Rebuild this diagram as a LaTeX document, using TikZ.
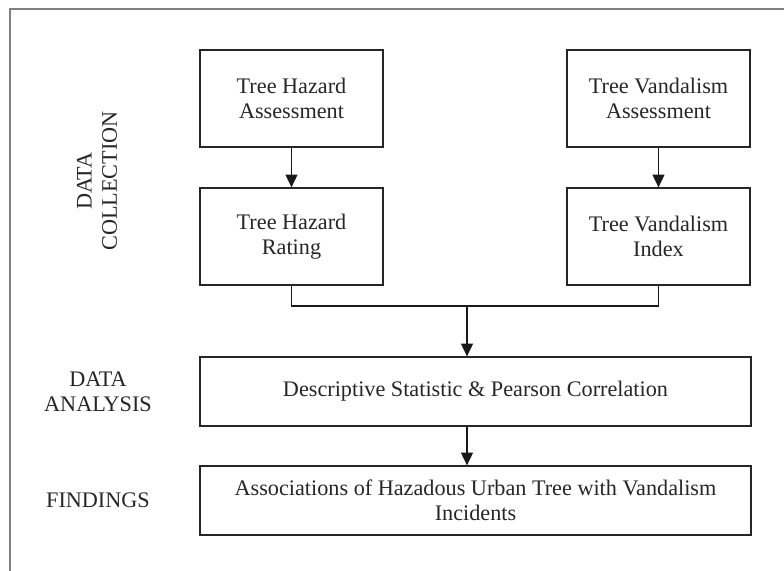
\documentclass[tikz,border=0pt]{standalone}
\usepackage{fontspec}
\setmainfont{Liberation Serif}
\usepackage{tikz}
\usetikzlibrary{positioning,arrows.meta}

\tikzset{
  stagebox/.style={draw=black!85, line width=0.9pt, align=center, text=black!85,
    minimum width=4.575cm, minimum height=2.425cm, inner sep=0pt},
  widebox/.style={stagebox, minimum width=13.775cm, minimum height=1.725cm},
  phaselab/.style={align=center, text=black!85},
  flow/.style={-{Triangle[length=3.2mm,width=3mm]}, line width=0.9pt, black!90}
}

\begin{document}
\begin{tikzpicture}[x=0.025cm, y=-0.025cm, font=\fontsize{15.8}{18}\selectfont]
    \useasboundingbox (0,0) rectangle (784,571);
    % frame
    \draw[black!50, line width=1.5pt] (784,9) -- (10,9) -- (10,571);

    \foreach \name/\x/\y/\lab in {tha/291.5/98.5/{Tree Hazard\\Assessment},
                                 thr/291.5/236.5/{Tree Hazard\\Rating},
                                 tva/658.5/98.5/{Tree Vandalism\\Assessment},
                                 tvi/658.5/236.5/{Tree Vandalism\\Index}}
      \node[stagebox] (\name) at (\x,\y) {\lab};
    \node[widebox] (da) at (475.5,391.5) {Descriptive Statistic \& Pearson Correlation};
    \node[widebox] (fd) at (475.5,500.5) {Associations of Hazadous Urban Tree with Vandalism\\Incidents};

    \node[phaselab, rotate=90] (dc) at (97,181) {DATA\\COLLECTION};
    \node[phaselab] (dal) at (98,392) {DATA\\ANALYSIS};
    \node[phaselab] (fdl) at (98,500) {FINDINGS};

    \draw[flow] (tha) -- (thr);
    \draw[flow] (tva) -- (tvi);
    \coordinate (mid) at (467,306);
    \draw[line width=0.9pt, black!90] (thr.south) |- (mid) -| (tvi.south);
    \draw[flow] (mid) -- (mid |- da.north);
    \draw[flow] (da.south -| mid) -- (fd.north -| mid);
  \end{tikzpicture}
\end{document}
